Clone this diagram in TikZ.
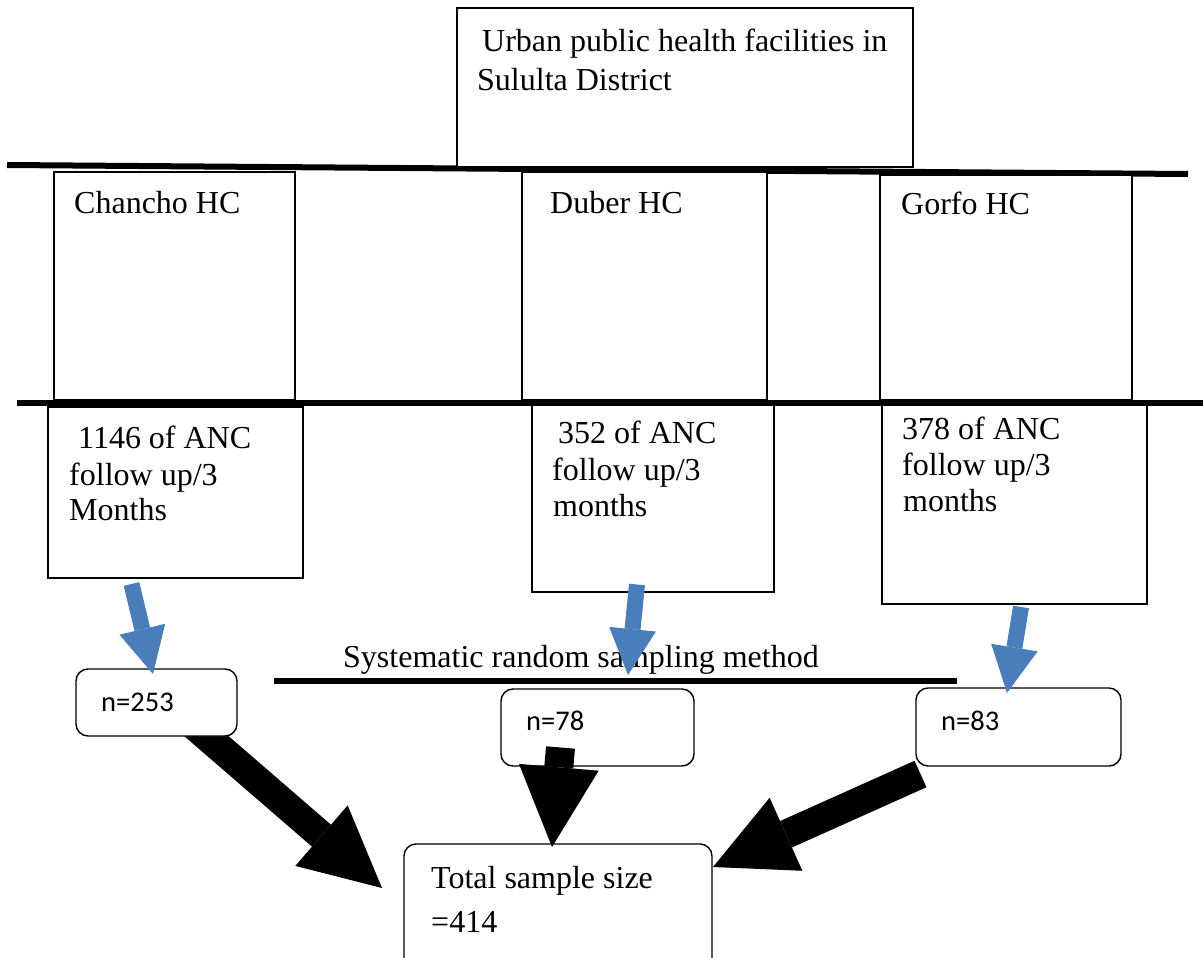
\documentclass[tikz,border=0pt]{standalone}
\usepackage{fontspec}
\setmainfont{Liberation Serif}
\newfontfamily\calib{Carlito}
\usetikzlibrary{arrows.meta,calc}
\definecolor{arrowblue}{RGB}{74,126,187}
\pgfdeclarelayer{bg}
\pgfsetlayers{bg,main}
\begin{document}
\begin{tikzpicture}[x=1pt,y=-1pt,
  sq/.style={draw, line width=1.4pt, fill=white, inner sep=0pt, outer sep=0pt},
  rb/.style={draw, line width=1.4pt, rounded corners=12pt, fill=white, inner sep=0pt, outer sep=0pt},
  txt/.style={anchor=base west, inner sep=0pt, font=\fontsize{32}{37}\selectfont},
  stxt/.style={anchor=base west, inner sep=0pt, font=\calib\fontsize{28.5}{34}\selectfont},
  bar/.style={line width=6pt},
  blue arrow/.style={draw=arrowblue, line width=16pt, -{Triangle[width=47pt,length=46pt,line width=0pt]}},
  big arrow/.style={draw=black, line width=29pt, -{Triangle[width=80pt,length=80pt,line width=0pt]}}]
\useasboundingbox (0,0) rectangle (1203,958);

% horizontal bars (free ends)
\coordinate (l1a) at (7,165);   \coordinate (l1b) at (1188,174);
\coordinate (l2a) at (17,403);  \coordinate (l2b) at (1203,403);
\coordinate (l3a) at (274,681); \coordinate (l3b) at (957,681);

\draw[bar] (l1a) -- (l1b);

% top box
\node[sq, minimum width=456pt, minimum height=159pt] (top) at (685,87.5) {};
\node[txt] (topa) at (482,52) {Urban public health facilities in};
\node[txt] (topb) at (477,91) {Sululta District};

% health centre boxes
\node[sq, minimum width=241pt, minimum height=228pt] (hc1) at (174.5,286) {};
\node[sq, minimum width=245pt, minimum height=228pt] (hc2) at (644.5,286) {};
\node[sq, minimum width=252pt, minimum height=225pt] (hc3) at (1006,287.5) {};
\node[txt] (hc1t) at (74,213) {Chancho HC};
\node[txt] (hc2t) at (550,213) {Duber HC};
\node[txt] (hc3t) at (901,214) {Gorfo HC};

% ANC boxes
\node[sq, minimum width=255pt, minimum height=171pt] (anc1) at (175.5,492.5) {};
\node[sq, minimum width=242pt, minimum height=187pt] (anc2) at (653,498.5) {};
\node[sq, minimum width=265pt, minimum height=201pt] (anc3) at (1014.5,503.5) {};

\draw[bar] (l2a) -- (l2b);

\node[txt] (anc1a) at (78,448) {1146 of ANC};
\node[txt] (anc1b) at (69,485) {follow up/3};
\node[txt] (anc1c) at (69,520) {Months};
\node[txt] (anc2a) at (558,443) {352 of ANC};
\node[txt] (anc2b) at (552,480) {follow up/3};
\node[txt] (anc2c) at (553,516) {months};
\node[txt] (anc3a) at (902,439) {378 of ANC};
\node[txt] (anc3b) at (902,475) {follow up/3};
\node[txt] (anc3c) at (903,511) {months};

% systematic sampling
\node[txt] (sys) at (343,667) {Systematic random sampling method};
\draw[bar] (l3a) -- (l3b);

% sample boxes
\node[rb, minimum width=161pt, minimum height=67pt] (n253) at (156.5,702.5) {};
\node[rb, minimum width=193pt, minimum height=77pt] (n78) at (597.5,727.5) {};
\node[rb, minimum width=205pt, minimum height=78pt] (n83) at (1018.5,727) {};
\node[stxt] (n253t) at (101,711) {n=253};
\node[stxt] (n78t) at (526,730) {n=78};
\node[stxt] (n83t) at (941,730) {n=83};

% total box
\node[rb, minimum width=308pt, minimum height=141pt] (total) at (558,914.5) {};
\node[txt] (tota) at (431,888) {Total sample size};
\node[txt] (totb) at (431,932) {=414};

% black arrows
\begin{pgfonlayer}{bg}
\draw[big arrow] ($(n253.center)+(25.5,12.5)$) -- ($(total.north west)+(-22,44)$);
\end{pgfonlayer}
\draw[big arrow] ($(n78.south)+(-37,-18.5)$) -- ($(total.north)+(-6,3)$);
\draw[big arrow] ($(n83.south west)+(4.5,8)$) -- ($(total.north east)+(1,23)$);

% blue arrows
\draw[blue arrow] ($(anc1.south)+(-44,6)$) -- ($(n253.north)+(-3.5,5)$);
\draw[blue arrow] ($(anc2.south)+(-16,-7.5)$) -- ($(n78.north)+(30.5,-14)$);
\draw[blue arrow] ($(anc3.south)+(6.5,3)$) -- ($(n83.north)+(-11.5,5)$);
\end{tikzpicture}
\end{document}
